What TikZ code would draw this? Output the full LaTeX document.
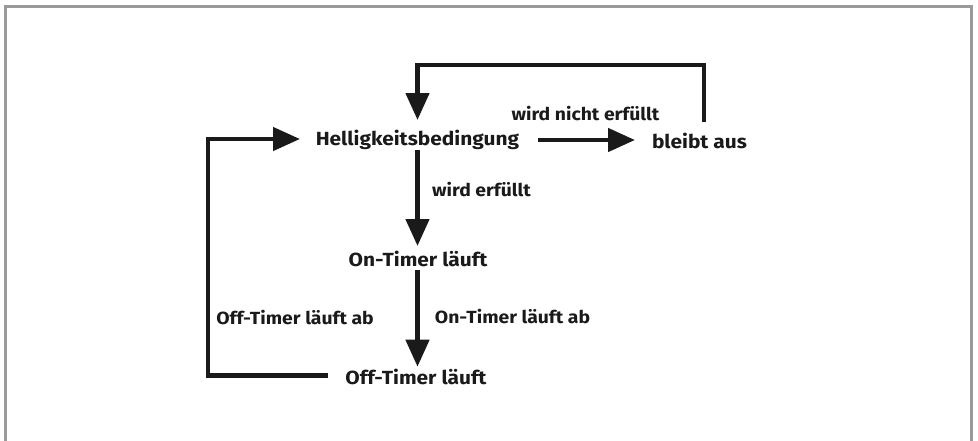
\documentclass[tikz,border=0pt]{standalone}
\usepackage{fontspec}
\setmainfont{Fira Sans}
\newfontfamily\diagfont[FakeStretch=1.1]{Fira Sans}
\usetikzlibrary{arrows.meta}
\definecolor{framegray}{HTML}{9A9A9A}
\definecolor{ink}{HTML}{1A1A1A}
\tikzset{
  state/.style={anchor=base, inner sep=0pt, text=ink, font=\diagfont\fontsize{19}{22}\selectfont\bfseries},
  lbl/.style={anchor=base, inner sep=0pt, text=ink, font=\diagfont\fontsize{17.6}{20}\selectfont\bfseries},
  conn/.style={draw=ink, line width=4.6pt, line join=miter, line cap=butt},
  tip/.style={-{Triangle[length=27pt,width=23pt]}},
}
\begin{document}
\begin{tikzpicture}[x=1pt,y=-1pt]
\useasboundingbox (0,0) rectangle (978,440);
\draw[framegray, line width=3pt] (5.5,445) -- (5.5,6.7) -- (971.7,6.7) -- (971.7,445);

\node[state] (hell) at (417.5,145) {Helligkeitsbedingung};
\node[state] (bleibt) at (699.5,148) {bleibt aus};
\node[state] (on) at (418,266.7) {On-Timer läuft};
\node[state] (off) at (416,384) {Off-Timer läuft};

\node[lbl] (l1) at (585.5,120) {wird nicht erfüllt};
\node[lbl] (l2) at (481.5,196.7) {wird erfüllt};
\node[lbl] (l3) at (512.5,323.3) {On-Timer läuft ab};
\node[lbl] (l4) at (295,324) {Off-Timer läuft ab};

\coordinate (tr) at (704,65);
\coordinate (tl) at (417.5,65);
\coordinate (bl) at (208,375.5);

% top loop
\draw[conn, tip] ([shift={(4.5,-26.3)}]bleibt.base) -- (tr) -- (tl) -- ([shift={(0,-25)}]hell.base);
% hell -> bleibt
\draw[conn, tip] ([shift={(120.5,-5)}]hell.base) -- ([shift={(-64.5,-8)}]bleibt.base);
% hell -> on
\draw[conn, tip] ([shift={(0,5)}]hell.base) -- ([shift={(-0.5,-20.7)}]on.base);
% on -> off
\draw[conn, tip] ([shift={(-0.5,3.3)}]on.base) -- ([shift={(1.5,-17.3)}]off.base);
% off -> hell loop
\draw[conn, tip] ([shift={(-88,-8.5)}]off.base) -- (bl) |- ([shift={(-117.5,-6)}]hell.base);
\end{tikzpicture}
\end{document}
